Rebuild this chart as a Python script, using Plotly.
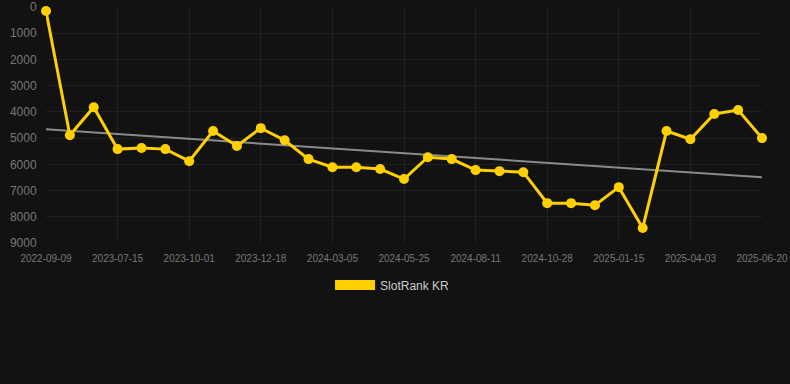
import plotly.graph_objects as go

dates = ["2022-09-09", "2023-05-24", "2023-06-19", "2023-07-15", "2023-08-10", "2023-09-05",
         "2023-10-01", "2023-10-27", "2023-11-22", "2023-12-18", "2024-01-13", "2024-02-08",
         "2024-03-05", "2024-03-31", "2024-04-28", "2024-05-25", "2024-06-20", "2024-07-16",
         "2024-08-11", "2024-09-06", "2024-10-02", "2024-10-28", "2024-11-23", "2024-12-20",
         "2025-01-15", "2025-02-10", "2025-03-08", "2025-04-03", "2025-04-29", "2025-05-25",
         "2025-06-20"]
rank = [150, 4890, 3820, 5420, 5380, 5420, 5880, 4730, 5300, 4620, 5080, 5800,
        6110, 6110, 6180, 6560, 5730, 5800, 6220, 6260, 6300, 7480, 7480, 7560,
        6870, 8430, 4730, 5040, 4080, 3930, 5000]
trend_x = [dates[0], dates[-1]]
trend_y = [4660, 6490]
tick_labels = dates[::3]
y_ticks = [0, 1000, 2000, 3000, 4000, 5000, 6000, 7000, 8000, 9000]

gold = "#FFD000"
fig = go.Figure()
fig.add_trace(go.Scatter(x=trend_x, y=trend_y, mode="lines",
                         line=dict(color="#8a8a8a", width=2), showlegend=False, hoverinfo="skip"))
fig.add_trace(go.Scatter(x=dates, y=rank, mode="lines+markers", cliponaxis=False,
                         line=dict(color=gold, width=3),
                         marker=dict(color=gold, size=10), showlegend=False))
fig.add_trace(go.Scatter(x=[None], y=[None], mode="lines", name="SlotRank KR",
                         line=dict(color=gold, width=12), showlegend=True))

fig.update_layout(
    width=790, height=384,
    paper_bgcolor="#121212", plot_bgcolor="#121212",
    margin=dict(l=46, r=28, t=7, b=141, autoexpand=False),
    font=dict(family="Liberation Sans, Arial, sans-serif", color="#888888"),
    legend=dict(orientation="h", x=0.484, xanchor="center", y=-0.178, yanchor="middle",
                font=dict(size=12, color="#cccccc"), itemwidth=40, bgcolor="rgba(0,0,0,0)"),
    showlegend=True,
)
fig.update_xaxes(type="category", categoryorder="array", categoryarray=dates,
                 range=[0, len(dates) - 1], tickmode="array", tickvals=tick_labels,
                 ticktext=tick_labels, tickfont=dict(size=10, color="#777777"),
                 showgrid=True, gridcolor="#202020", gridwidth=1, zeroline=False,
                 showline=False, ticks="outside", ticklen=6, tickcolor="rgba(0,0,0,0)",
                 tickangle=0, automargin=False)
fig.update_yaxes(range=[9000, 0], tickmode="array", tickvals=y_ticks,
                 tickfont=dict(size=12, color="#777777"), showgrid=True,
                 gridcolor="#202020", gridwidth=1, zeroline=False, showline=False,
                 ticks="outside", ticklen=6, tickcolor="rgba(0,0,0,0)", automargin=False)

fig.write_html("out.html", config={"displayModeBar": False},
               post_script="document.body.style.margin='0';document.body.style.background='#121212';")
